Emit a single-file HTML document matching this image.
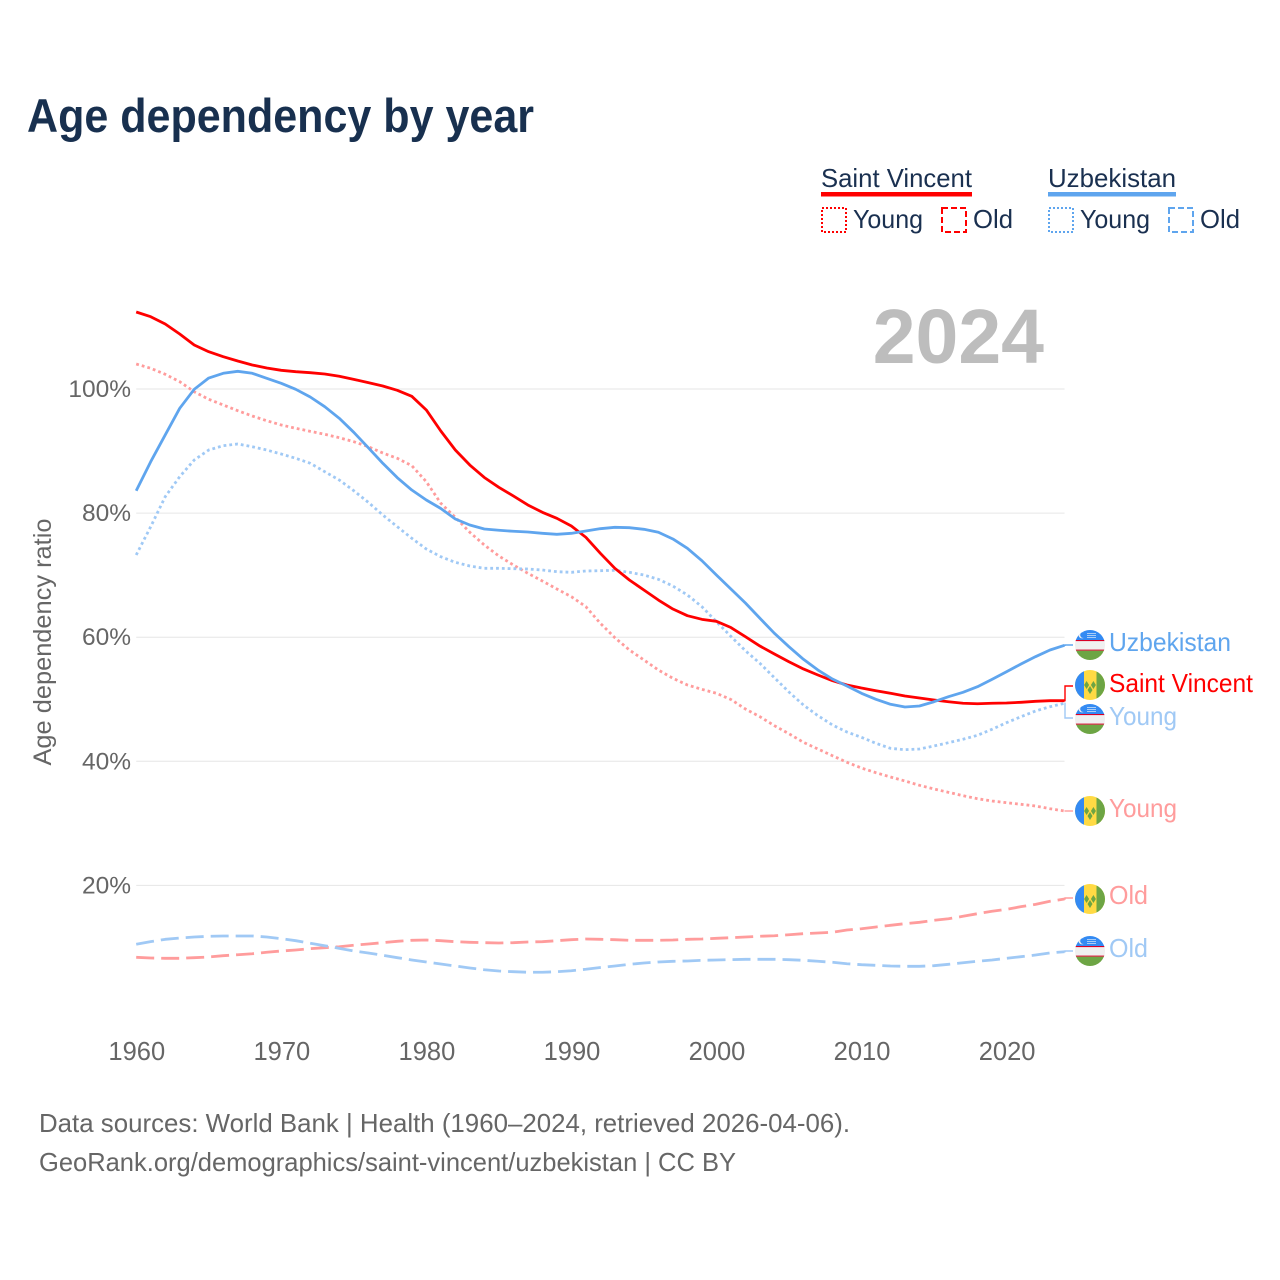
<!DOCTYPE html>
<html lang="en">
<head>
<meta charset="utf-8">
<title>Age dependency by year</title>
<style>
html,body{margin:0;padding:0;background:#fff;}
svg{display:block;}
text{font-family:"Liberation Sans",sans-serif;}
</style>
</head>
<body>
<svg id="chart" xmlns="http://www.w3.org/2000/svg" width="1280" height="1280" viewBox="0 0 1280 1280">
  <defs>
    <clipPath id="flag-clip"><circle cx="0" cy="0" r="15"/></clipPath>
    <g id="flag-sv" clip-path="url(#flag-clip)">
      <rect x="-15" y="-15" width="30" height="30" fill="#ffda44"/>
      <rect x="-15" y="-15" width="9" height="30" fill="#338af3"/>
      <rect x="6.5" y="-15" width="9" height="30" fill="#6da544"/>
      <polygon points="-3.4,-4 -0.9,0 -3.4,4 -5.9,0" fill="#6da544"/>
      <polygon points="3.4,-4 5.9,0 3.4,4 0.9,0" fill="#6da544"/>
      <polygon points="0,1 2.5,5 0,9 -2.5,5" fill="#6da544"/>
    </g>
    <g id="flag-uz" clip-path="url(#flag-clip)">
      <rect x="-15" y="-15" width="30" height="11" fill="#338af3"/>
      <rect x="-15" y="-5" width="30" height="10.5" fill="#f0f0f0"/>
      <rect x="-15" y="-5" width="30" height="1.1" fill="#d80027"/>
      <rect x="-15" y="4.6" width="30" height="1.1" fill="#d80027"/>
      <rect x="-15" y="5.7" width="30" height="10" fill="#6da544"/>
      <circle cx="-8" cy="-10" r="3.4" fill="#f0f0f0"/>
      <circle cx="-6.8" cy="-10" r="3" fill="#338af3"/>
      <rect x="-3" y="-12" width="9" height="1" fill="#a9cdf7"/>
      <rect x="-3" y="-10" width="9" height="1" fill="#a9cdf7"/>
      <rect x="-3" y="-8" width="9" height="1" fill="#a9cdf7"/>
    </g>
  </defs>

  <text x="27" y="132" font-size="47" font-weight="700" fill="#18304f" textLength="507" lengthAdjust="spacingAndGlyphs">Age dependency by year</text>

  <g font-size="26" fill="#1a3050">
    <text x="821" y="187" textLength="151" lengthAdjust="spacingAndGlyphs">Saint Vincent</text>
    <rect x="821" y="192" width="151" height="4.5" fill="#ff0000"/>
    <rect x="822" y="208" width="24" height="24" fill="none" stroke="#ff0000" stroke-width="2" stroke-dasharray="2 2"/>
    <text x="853" y="228" textLength="70" lengthAdjust="spacingAndGlyphs">Young</text>
    <rect x="942" y="208" width="24" height="24" fill="none" stroke="#ff0000" stroke-width="2" stroke-dasharray="6 3"/>
    <text x="973" y="228" textLength="40" lengthAdjust="spacingAndGlyphs">Old</text>

    <text x="1048" y="187" textLength="128" lengthAdjust="spacingAndGlyphs">Uzbekistan</text>
    <rect x="1048" y="192" width="128" height="4.5" fill="#5fa5ee"/>
    <rect x="1049" y="208" width="24" height="24" fill="none" stroke="#5fa5ee" stroke-width="2" stroke-dasharray="2 2"/>
    <text x="1080" y="228" textLength="70" lengthAdjust="spacingAndGlyphs">Young</text>
    <rect x="1169" y="208" width="24" height="24" fill="none" stroke="#5fa5ee" stroke-width="2" stroke-dasharray="6 3"/>
    <text x="1200" y="228" textLength="40" lengthAdjust="spacingAndGlyphs">Old</text>
  </g>

  <g id="grid"></g>
  <g id="y-axis" font-size="24.5" fill="#666666" text-anchor="end"></g>
  <g id="x-axis" font-size="25.5" fill="#666666" text-anchor="middle"></g>
  <text transform="translate(51,642) rotate(-90)" font-size="25" fill="#666666" text-anchor="middle" textLength="247" lengthAdjust="spacingAndGlyphs">Age dependency ratio</text>
  <text x="1044" y="363" font-size="77" font-weight="700" fill="#bdbdbd" text-anchor="end">2024</text>

  <g id="series" fill="none"></g>
  <g id="connectors" fill="none" stroke-width="1.4"></g>

  <g font-size="26">
    <use href="#flag-uz" x="1090" y="645"/>
    <text x="1109" y="651" fill="#5fa5ee" textLength="122" lengthAdjust="spacingAndGlyphs">Uzbekistan</text>
    <use href="#flag-sv" x="1090" y="685"/>
    <text x="1109" y="692" fill="#ff0000" textLength="144" lengthAdjust="spacingAndGlyphs">Saint Vincent</text>
    <use href="#flag-uz" x="1090" y="719"/>
    <text x="1109" y="725" fill="#a0c9f5" textLength="68" lengthAdjust="spacingAndGlyphs">Young</text>
    <use href="#flag-sv" x="1090" y="811"/>
    <text x="1109" y="817" fill="#ff9c9c" textLength="68" lengthAdjust="spacingAndGlyphs">Young</text>
    <use href="#flag-sv" x="1090" y="899"/>
    <text x="1109" y="904" fill="#ff9c9c" textLength="39" lengthAdjust="spacingAndGlyphs">Old</text>
    <use href="#flag-uz" x="1090" y="951"/>
    <text x="1109" y="957" fill="#a0c9f5" textLength="39" lengthAdjust="spacingAndGlyphs">Old</text>
  </g>

  <g font-size="26" fill="#666666">
    <text x="39" y="1132" textLength="811" lengthAdjust="spacingAndGlyphs">Data sources: World Bank | Health (1960–2024, retrieved 2026-04-06).</text>
    <text x="39" y="1171" textLength="697" lengthAdjust="spacingAndGlyphs">GeoRank.org/demographics/saint-vincent/uzbekistan | CC BY</text>
  </g>
</svg>

<script>
var startYear = 1960;
var xTickYears = [1960, 1970, 1980, 1990, 2000, 2010, 2020];
var yTickValues = [20, 40, 60, 80, 100];

var saintVincentTotal = [
112.41,111.65,110.48,108.86,107.09,106.01,105.21,104.51,103.87,103.38,
103.01,102.79,102.63,102.42,102.05,101.56,101.02,100.48,99.79,98.82,
96.62,93.23,90.17,87.75,85.74,84.16,82.76,81.31,80.13,79.16,
77.92,76.10,73.52,71.10,69.22,67.61,65.99,64.54,63.47,62.88,
62.56,61.56,60.08,58.58,57.29,56.05,54.88,53.91,52.99,52.30,
51.81,51.38,50.96,50.52,50.20,49.88,49.60,49.35,49.28,49.35,
49.40,49.51,49.67,49.77,49.77];

var uzbekistanTotal = [
83.61,88.28,92.59,96.89,99.95,101.77,102.53,102.85,102.53,101.72,
100.92,99.95,98.71,97.15,95.28,93.02,90.54,88.03,85.71,83.72,
82.11,80.74,79.05,78.08,77.44,77.23,77.07,76.95,76.74,76.58,
76.74,77.11,77.49,77.71,77.65,77.39,76.91,75.83,74.33,72.33,
70.02,67.77,65.51,63.05,60.63,58.47,56.44,54.71,53.26,52.14,
50.96,49.99,49.19,48.75,48.91,49.60,50.41,51.12,52.02,53.21,
54.44,55.68,56.86,57.94,58.69];

var saintVincentYoung = [
104.03,103.34,102.37,101.18,99.56,98.34,97.42,96.50,95.65,94.89,
94.20,93.67,93.18,92.70,92.15,91.51,90.70,89.69,88.83,87.64,
85.06,81.58,79.32,76.91,74.86,73.09,71.64,70.30,69.06,67.77,
66.53,64.92,62.24,59.92,57.94,56.33,54.71,53.38,52.30,51.60,
50.96,49.96,48.43,47.19,45.74,44.45,43.06,41.98,40.90,39.84,
38.92,38.16,37.47,36.83,36.13,35.54,35.00,34.46,33.97,33.60,
33.33,33.07,32.80,32.36,31.99];

var uzbekistanYoung = [
73.25,77.81,82.64,85.87,88.56,90.17,90.86,91.14,90.70,90.17,
89.52,88.83,88.03,86.67,85.33,83.61,81.74,79.69,77.81,75.94,
74.21,72.97,72.07,71.47,71.10,71.10,71.04,70.99,70.83,70.56,
70.46,70.67,70.72,70.78,70.46,70.02,69.33,68.25,66.80,64.92,
62.50,60.13,57.82,55.79,53.47,51.17,49.07,47.35,45.85,44.72,
43.87,42.90,42.09,41.87,41.98,42.47,43.00,43.55,44.19,45.16,
46.22,47.19,48.11,48.80,49.35];

var saintVincentOld = [
8.41,8.30,8.25,8.25,8.35,8.46,8.67,8.83,8.99,9.22,
9.43,9.59,9.80,9.96,10.12,10.35,10.56,10.77,10.99,11.15,
11.20,11.09,10.93,10.83,10.77,10.72,10.77,10.88,10.93,11.09,
11.25,11.36,11.31,11.25,11.15,11.15,11.15,11.20,11.31,11.36,
11.47,11.57,11.68,11.80,11.89,12.05,12.22,12.33,12.44,12.81,
13.02,13.30,13.57,13.83,14.05,14.38,14.63,15.02,15.44,15.83,
16.15,16.57,16.95,17.44,17.81];

var uzbekistanOld = [
10.51,10.93,11.31,11.52,11.68,11.80,11.85,11.85,11.85,11.68,
11.41,11.09,10.67,10.28,9.86,9.43,9.11,8.73,8.35,7.98,
7.66,7.33,7.01,6.69,6.41,6.20,6.09,6.00,6.00,6.09,
6.25,6.48,6.77,7.01,7.28,7.49,7.66,7.77,7.82,7.93,
7.98,8.03,8.09,8.09,8.09,8.03,7.93,7.77,7.61,7.38,
7.22,7.12,7.01,6.96,6.96,7.06,7.28,7.54,7.77,7.98,
8.25,8.51,8.78,9.11,9.31];

var NS = 'http://www.w3.org/2000/svg';

function xScale(year) {
  return 136.2 + (year - 1960) * 14.505;
}
function yScale(value) {
  return 1009.5 - value * 6.205;
}

var gridGroup = document.getElementById('grid');
var yAxisGroup = document.getElementById('y-axis');
var xAxisGroup = document.getElementById('x-axis');
var seriesGroup = document.getElementById('series');
var connectorGroup = document.getElementById('connectors');

yTickValues.forEach(function (v) {
  var line = document.createElementNS(NS, 'line');
  
  
  line.setAttribute('x1', xScale(1960));
  line.setAttribute('x2', xScale(2024));
  line.setAttribute('y1', yScale(v));
  line.setAttribute('y2', yScale(v));
  line.setAttribute('stroke', '#e6e6e6');
  line.setAttribute('stroke-width', '1');
  gridGroup.appendChild(line);

  var label = document.createElementNS(NS, 'text');
  
  
  label.setAttribute('x', 131);
  label.setAttribute('y', yScale(v) + 8);
  label.textContent = v + '%';
  yAxisGroup.appendChild(label);
});

xTickYears.forEach(function (year) {
  var label = document.createElementNS(NS, 'text');
  
  
  label.setAttribute('x', xScale(year) + 0.6);
  label.setAttribute('y', 1060);
  label.textContent = year;
  xAxisGroup.appendChild(label);
});

function drawSeries(values, color, width, dash) {
  var d = values.map(function (v, i) {
    return (i ? 'L' : 'M') + xScale(startYear + i).toFixed(2) + ' ' + yScale(v).toFixed(2);
  }).join('');
  var path = document.createElementNS(NS, 'path');
  
  
  path.setAttribute('d', d);
  path.setAttribute('stroke', color);
  path.setAttribute('stroke-width', width);
  path.setAttribute('stroke-linejoin', 'round');
  if (dash) path.setAttribute('stroke-dasharray', dash);
  seriesGroup.appendChild(path);
}

function drawConnector(values, color, flagY) {
  var xEnd = xScale(2024);
  var yEnd = yScale(values[values.length - 1]);
  var path = document.createElementNS(NS, 'path');
  
  
  path.setAttribute('d', 'M' + xEnd.toFixed(2) + ' ' + yEnd.toFixed(2) + 'H1065V' + flagY + 'H1073');
  path.setAttribute('stroke', color);
  connectorGroup.appendChild(path);
}

drawSeries(saintVincentYoung, '#ff9c9c', 2.8, '2.8 3');
drawSeries(uzbekistanYoung, '#a0c9f5', 2.8, '2.8 3');
drawSeries(saintVincentOld, '#ff9c9c', 2.8, '18 7');
drawSeries(uzbekistanOld, '#a0c9f5', 2.8, '18 7');
drawSeries(saintVincentTotal, '#ff0000', 2.8, null);
drawSeries(uzbekistanTotal, '#5fa5ee', 2.8, null);

drawConnector(uzbekistanTotal, '#5fa5ee', 645);
drawConnector(saintVincentTotal, '#ff0000', 686);
drawConnector(uzbekistanYoung, '#a0c9f5', 718);
drawConnector(saintVincentYoung, '#ff9c9c', 811);
drawConnector(saintVincentOld, '#ff9c9c', 898);
drawConnector(uzbekistanOld, '#a0c9f5', 951);
</script>
</body>
</html>
